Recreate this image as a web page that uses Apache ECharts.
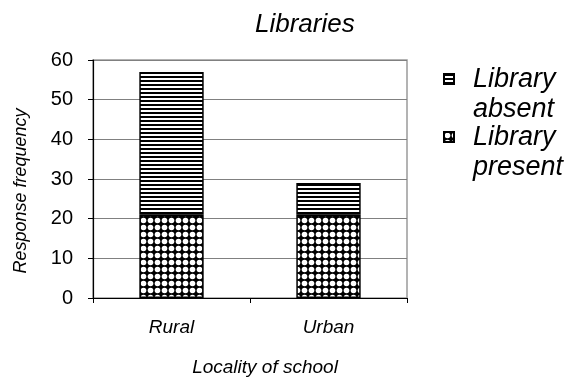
<!DOCTYPE html>
<html>
<head>
<meta charset="utf-8">
<script src="https://cdn.jsdelivr.net/npm/echarts@6/dist/echarts.min.js"></script>
<style>
  html, body { margin: 0; padding: 0; background: #fff; }
  #chart { width: 577px; height: 382px; }
</style>
</head>
<body>
<div id="chart"></div>
<script>
// Data
var categories = ['Rural', 'Urban'];
var libraryPresent = [21, 21];
var libraryAbsent = [36, 8];
var yTicks = [0, 10, 20, 30, 40, 50, 60];

// Hatch patterns, drawn on small canvases
function stripePattern() {
    var c = document.createElement('canvas');
    c.width = 4; c.height = 4;
    var ctx = c.getContext('2d');
    ctx.fillStyle = '#fff';
    ctx.fillRect(0, 0, 4, 4);
    ctx.fillStyle = '#000';
    ctx.fillRect(0, 0, 4, 2);
    return c;
}

function dotPattern() {
    var c = document.createElement('canvas');
    c.width = 7; c.height = 7;
    var ctx = c.getContext('2d');
    ctx.fillStyle = '#000';
    ctx.fillRect(0, 0, 7, 7);
    ctx.fillStyle = '#fff';
    ctx.beginPath();
    ctx.arc(3.5, 3.5, 2.8, 0, Math.PI * 2);
    ctx.fill();
    return c;
}

var stripes = { image: stripePattern(), repeat: 'repeat' };
var dots = { image: dotPattern(), repeat: 'repeat' };

var font = 'Liberation Sans, Arial, sans-serif';

var myChart = echarts.init(document.getElementById('chart'), null, { renderer: 'canvas' });

// One legend per item; a blank first line puts the icon next to "Library"
function legendFor(name, top) {
    return {
        orient: 'vertical',
        left: 443,
        top: top,
        padding: 0,
        data: [name],
        icon: 'rect',
        itemWidth: 10,
        itemHeight: 10,
        itemGap: 0,
        formatter: function (n) { return ' \n' + n.replace(' ', '\n'); },
        textStyle: {
            fontFamily: font,
            fontStyle: 'italic',
            fontSize: 27,
            lineHeight: 30,
            color: '#000',
            padding: [0, 0, 0, 14]
        }
    };
}

var option = {
    backgroundColor: '#fff',
    animation: false,
    title: {
        text: 'Libraries',
        left: 250,
        top: 7,
        textStyle: {
            fontFamily: font,
            fontStyle: 'italic',
            fontWeight: 'normal',
            fontSize: 26,
            color: '#000'
        }
    },
    legend: [
        legendFor('Library absent', 34),
        legendFor('Library present', 92)
    ],
    grid: {
        left: 93,
        right: 170,
        top: 60,
        bottom: 83,
        show: true,
        borderColor: '#9a9a9a',
        borderWidth: 1.5
    },
    xAxis: {
        type: 'category',
        data: categories,
        name: 'Locality of school',
        nameLocation: 'middle',
        nameGap: 60,
        nameTextStyle: {
            fontFamily: font,
            fontStyle: 'italic',
            fontSize: 19,
            color: '#000',
            padding: [0, 0, 0, 30]
        },
        axisLine: { lineStyle: { color: '#000', width: 1.2 } },
        axisTick: { show: true, length: 5, lineStyle: { color: '#000' } },
        axisLabel: {
            margin: 20,
            fontFamily: font,
            fontStyle: 'italic',
            fontSize: 19,
            color: '#000'
        }
    },
    yAxis: {
        type: 'value',
        min: 0,
        max: 60,
        interval: 10,
        name: 'Response frequency',
        nameLocation: 'middle',
        nameGap: 63,
        nameTextStyle: {
            fontFamily: font,
            fontStyle: 'italic',
            fontSize: 18,
            color: '#000',
            padding: [0, 24, 0, 0]
        },
        axisLine: { show: true, lineStyle: { color: '#000', width: 1.2 } },
        axisTick: { show: true, length: 5, lineStyle: { color: '#000' } },
        axisLabel: {
            margin: 20,
            fontFamily: font,
            fontSize: 20,
            color: '#000',
            formatter: function (v) { return yTicks.indexOf(v) >= 0 ? String(v) : ''; }
        },
        splitLine: { show: true, lineStyle: { color: '#808080', width: 1 } }
    },
    series: [
        {
            name: 'Library present',
            type: 'bar',
            stack: 'a',
            barWidth: '41%',
            data: libraryPresent,
            itemStyle: { color: dots, borderColor: '#000', borderWidth: 1.5 }
        },
        {
            name: 'Library absent',
            type: 'bar',
            stack: 'a',
            barWidth: '41%',
            data: libraryAbsent,
            itemStyle: { color: stripes, borderColor: '#000', borderWidth: 1.5 }
        }
    ]
};

myChart.setOption(option);
</script>
</body>
</html>
